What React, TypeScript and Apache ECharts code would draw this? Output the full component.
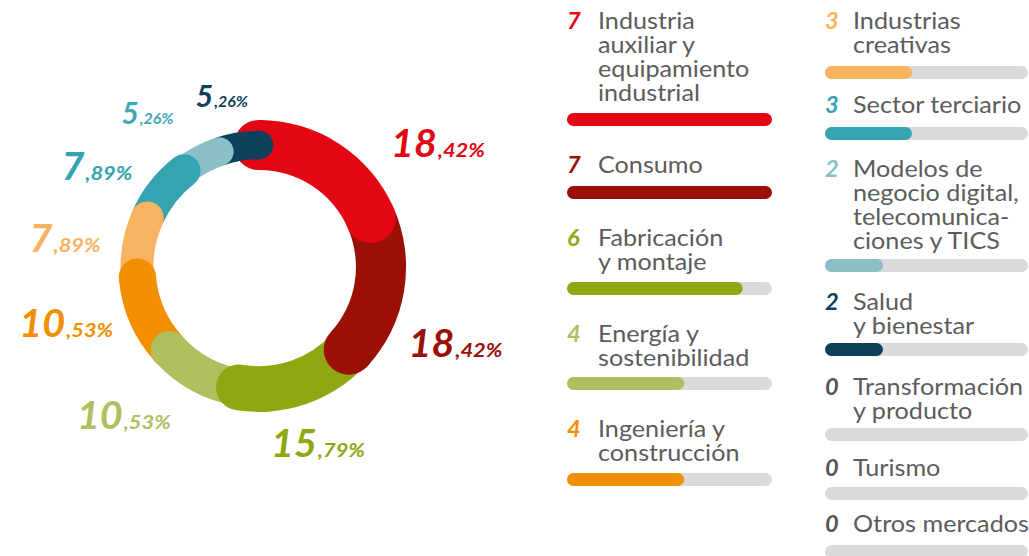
import React, { useEffect, useRef } from "react";
import * as echarts from "echarts";

// ---------- data ----------
const categories = [
  "Industria auxiliar y equipamiento industrial",
  "Consumo",
  "Fabricación y montaje",
  "Energía y sostenibilidad",
  "Ingeniería y construcción",
  "Industrias creativas",
  "Sector terciario",
  "Modelos de negocio digital, telecomunicaciones y TICS",
  "Salud y bienestar",
  "Transformación y producto",
  "Turismo",
  "Otros mercados",
];
const legendLabels = [
  "Industria\nauxiliar y\nequipamiento\nindustrial",
  "Consumo",
  "Fabricación\ny montaje",
  "Energía y\nsostenibilidad",
  "Ingeniería y\nconstrucción",
  "Industrias\ncreativas",
  "Sector terciario",
  "Modelos de\nnegocio digital,\ntelecomunica-\nciones y TICS",
  "Salud\ny bienestar",
  "Transformación\ny producto",
  "Turismo",
  "Otros mercados",
];
const values = [7, 7, 6, 4, 4, 3, 3, 2, 2, 0, 0, 0];

// ---------- styles / layout ----------
const colors = [
  "#e30613",
  "#9a1006",
  "#8fa811",
  "#b1be60",
  "#f28f00",
  "#f7b35f",
  "#36a3b1",
  "#8bbfc8",
  "#0d405b",
  "#555555",
  "#555555",
  "#555555",
];
const labelColors = [
  "#e30613",
  "#9a1006",
  "#8fa811",
  "#b1be60",
  "#f28f00",
  "#f7b35f",
  "#36a3b1",
  "#42a7b5",
  "#0d405b",
];
const TEXT_GRAY = "#5c5c5c";
const BAR_BG = "#dadada";
const FONT = "Lato, 'Open Sans', sans-serif";

const TOTAL = values.reduce((a, b) => a + b, 0);
const MAX_VALUE = Math.max(...values);

const RING_CENTER = [259, 267];
const RING_MID = 122;
// label anchor (split point between integer and decimals, on baseline): [deg clockwise from top, radius]
const LABEL_ANCHORS = [
  [58.3, 209],
  [114.7, 215],
  [163.1, 199],
  [220.0, 212],
  [250.2, 206],
  [274.1, 207],
  [296.4, 195],
  [320.0, 187],
  [344.1, 167],
];

const LEGEND_COLS = [
  { numX: 567, textX: 598, barX: 567, barW: 205 },
  { numX: 825, textX: 853, barX: 825, barW: 203 },
];
const LEGEND_POS = [
  { col: 0, base: 29, bar: 113 },
  { col: 0, base: 173, bar: 186 },
  { col: 0, base: 246, bar: 282 },
  { col: 0, base: 342, bar: 377 },
  { col: 0, base: 437, bar: 473 },
  { col: 1, base: 29, bar: 66 },
  { col: 1, base: 113, bar: 127 },
  { col: 1, base: 177, bar: 259 },
  { col: 1, base: 310, bar: 343 },
  { col: 1, base: 395, bar: 428 },
  { col: 1, base: 476, bar: 487 },
  { col: 1, base: 532, bar: 547 },
];
const BAR_H = 13;
const LEGEND_FS = 22.5;
const LEGEND_LH = 23.8;
const LEGEND_SCALE_X = 1.12;

function renderRing(params: any, api: any) {
  const i = params.dataIndex;
  const v = api.value(0);
  if (!v) return { type: "group", children: [] };
  let cumStart = 0;
  for (let k = 0; k < i; k++) cumStart += values[k];
  const cumEnd = cumStart + v;
  const c = api.coord([0, 0]);
  const ang = (a: number) => {
    const p = api.coord([RING_MID, a]);
    return Math.atan2(p[1] - c[1], p[0] - c[0]);
  };
  const px = (r: number) => {
    const p = api.coord([r, 0]);
    return Math.hypot(p[0] - c[0], p[1] - c[1]);
  };
  const rMid = px(RING_MID);
  const half = (20 + 4.3 * v) / 2;
  const sa = ang(cumStart);
  let ea = ang(cumEnd);
  while (ea <= sa) ea += Math.PI * 2;
  const color = colors[i];
  const z = i === 0 ? 0 : 10 - i;
  const children: any[] = [
    {
      type: "sector",
      shape: { cx: c[0], cy: c[1], r0: rMid - half, r: rMid + half, startAngle: sa, endAngle: ea, clockwise: true },
      style: { fill: color },
      z2: z,
    },
    {
      type: "circle",
      shape: { cx: c[0] + rMid * Math.cos(ea), cy: c[1] + rMid * Math.sin(ea), r: half },
      style: { fill: color },
      z2: i === 0 ? 20 : z,
    },
  ];
  if (i === 0) {
    children.push({
      type: "circle",
      shape: { cx: c[0] + rMid * Math.cos(sa), cy: c[1] + rMid * Math.sin(sa), r: half },
      style: { fill: color },
      z2: 0,
    });
  }
  // percentage label
  const pct = ((v / TOTAL) * 100).toFixed(2).split(".");
  const anchor = LABEL_ANCHORS[i];
  const p = api.coord([anchor[1], (anchor[0] / 360) * TOTAL]);
  const big = v >= 3;
  const fsBig = big ? 38 : 30;
  const fsSmall = big ? 19.5 : 16;
  const lc = labelColors[i];
  children.push(
    {
      type: "text",
      x: p[0],
      y: p[1] - 0.387 * fsBig,
      scaleX: big ? 1.04 : 1,
      z2: 30,
      style: {
        text: pct[0],
        fill: lc,
        fontSize: fsBig,
        fontWeight: "bold",
        fontStyle: "italic",
        fontFamily: FONT,
        align: "right",
        verticalAlign: "middle",
      },
    },
    {
      type: "text",
      x: p[0] + 1,
      y: p[1] - 0.387 * fsSmall,
      scaleX: big ? 1.12 : 1,
      z2: 30,
      style: {
        text: "," + pct[1] + "%",
        fill: lc,
        fontSize: fsSmall,
        fontWeight: "bold",
        fontStyle: "italic",
        fontFamily: FONT,
        align: "left",
        verticalAlign: "middle",
      },
    }
  );
  return { type: "group", children };
}

export default function App() {
  const ref = useRef<HTMLDivElement>(null);
  useEffect(() => {
    if (!ref.current) return;
    const chart = echarts.init(ref.current, undefined, { renderer: "svg" });

    const grids = LEGEND_POS.map((p) => {
      const col = LEGEND_COLS[p.col];
      return { left: col.barX, top: p.bar, width: col.barW, height: BAR_H, containLabel: false };
    });
    const xAxes = LEGEND_POS.map((_, k) => ({ type: "value", gridIndex: k, min: 0, max: MAX_VALUE, show: false }));
    const yAxes = LEGEND_POS.map((_, k) => ({ type: "category", gridIndex: k, data: [categories[k]], show: false }));
    const bars = LEGEND_POS.map((_, k) => ({
      type: "bar",
      name: categories[k],
      xAxisIndex: k,
      yAxisIndex: k,
      data: [values[k]],
      barWidth: BAR_H,
      silent: true,
      itemStyle: { color: colors[k], borderRadius: BAR_H / 2 },
      showBackground: true,
      backgroundStyle: { color: BAR_BG, borderRadius: BAR_H / 2 },
    }));

    const legendTexts: any[] = [];
    LEGEND_POS.forEach((p, k) => {
      const col = LEGEND_COLS[p.col];
      const top = p.base - (LEGEND_LH / 2 + 0.387 * LEGEND_FS);
      legendTexts.push(
        {
          type: "text",
          x: col.numX,
          y: top,
          scaleX: 1.05,
          style: {
            text: String(values[k]),
            fill: colors[k],
            fontSize: LEGEND_FS,
            fontWeight: "bold",
            fontStyle: "italic",
            fontFamily: FONT,
            lineHeight: LEGEND_LH,
            verticalAlign: "top",
          },
        },
        {
          type: "text",
          x: col.textX,
          y: top,
          scaleX: LEGEND_SCALE_X,
          style: {
            text: legendLabels[k],
            fill: TEXT_GRAY,
            fontSize: LEGEND_FS,
            fontFamily: FONT,
            lineHeight: LEGEND_LH,
            verticalAlign: "top",
          },
        }
      );
    });

    chart.setOption({
      animation: false,
      backgroundColor: "#ffffff",
      polar: { center: RING_CENTER, radius: 150 },
      angleAxis: { type: "value", min: 0, max: TOTAL, startAngle: 90, clockwise: true, show: false },
      radiusAxis: { type: "value", min: 0, max: 150, show: false },
      grid: grids,
      xAxis: xAxes,
      yAxis: yAxes,
      graphic: { elements: legendTexts },
      series: [
        {
          type: "custom",
          coordinateSystem: "polar",
          data: values,
          renderItem: renderRing,
          silent: true,
        },
        ...bars,
      ],
    });
    return () => chart.dispose();
  }, []);
  return (
    <div
      ref={ref}
      style={{ position: "fixed", left: 0, top: 0, width: 1029, height: 556, background: "#fff" }}
    />
  );
}
